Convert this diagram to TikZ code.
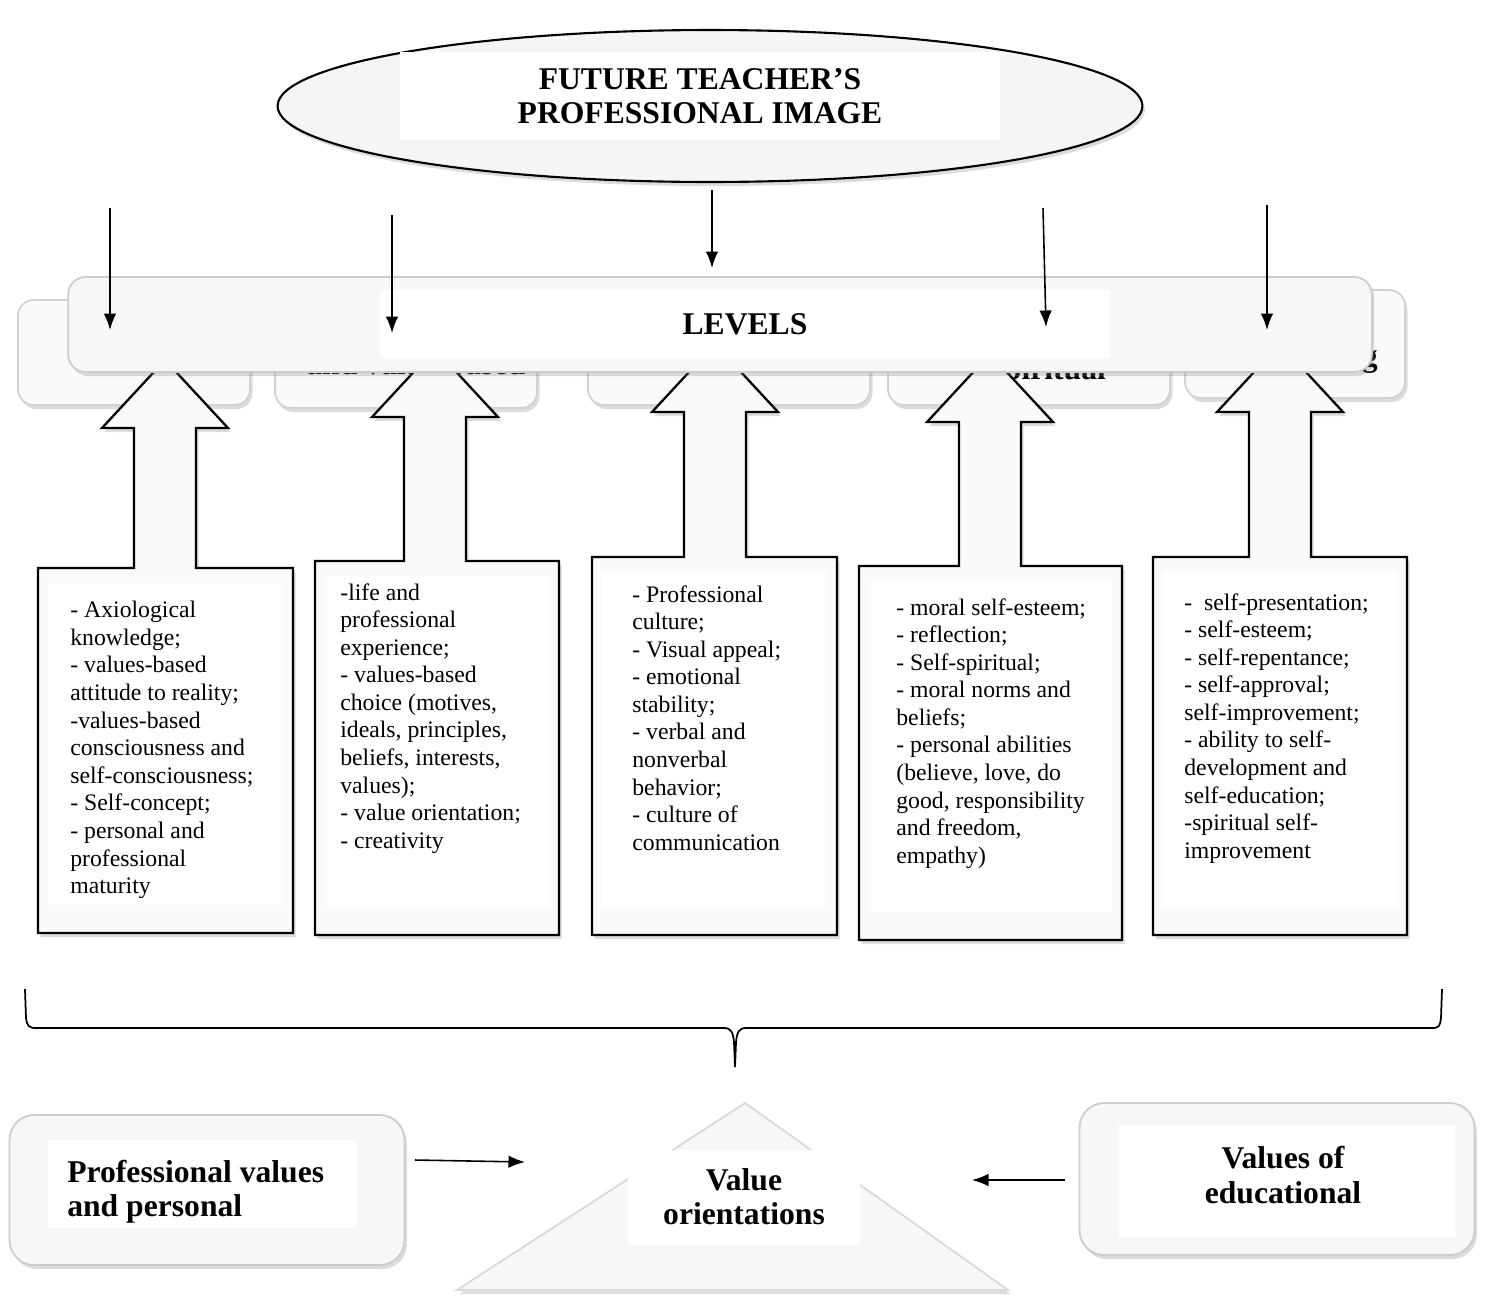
\documentclass[tikz,border=0pt]{standalone}
\usepackage{fontspec}
\setmainfont{Liberation Serif}
\usetikzlibrary{arrows.meta,positioning,shapes.geometric,shadows}

\newcommand{\itemfont}{\fontsize{13.5}{15.7}\selectfont}
\newcommand{\headfont}{\fontsize{18}{19.5}\selectfont\bfseries}

\begin{document}
\begin{tikzpicture}[
  x=0.02cm, y=-0.02cm,
  shade/.style={drop shadow={opacity=0.28, shadow xshift=0.5mm, shadow yshift=-0.8mm}},
  backbox/.style={draw=gray!35, fill=gray!4, line width=1pt, rounded corners=9pt, shade},
  callout/.style={draw=black, line width=1.3pt, fill=gray!4, shade},
  inner/.style={fill=white, draw=none},
  item/.style={anchor=north west, align=left, font=\itemfont, inner sep=0pt},
  head/.style={font=\headfont, align=center, inner sep=0pt},
  panel/.style={draw=gray!40, fill=gray!6, line width=1pt, rounded corners=14pt, shade},
  arr/.style={-{Latex[length=3.3mm, width=2.5mm]}, line width=0.9pt}
]
\useasboundingbox (0,0) rectangle (1486,1299);

% boxes hidden behind the LEVELS bar
\draw[backbox] (18,300) rectangle (250,405);
\draw[backbox] (275,320) rectangle (537,408);
\draw[backbox] (588,330) rectangle (870,405);
\draw[backbox] (888,315) rectangle (1170,405);
\draw[backbox] (1185,290) rectangle (1405,398);
\node[head, anchor=base west] (frag2) at (306,374) {and value-based};
\node[head, anchor=base west] (frag4) at (986,379) {Spiritual};
\node[head, anchor=base east] (frag5) at (1378,366) {g};

% up arrows joined to the boxes
\foreach \l/\r/\t/\b/\c/\w in {38/293/568/933/165/428, 315/559/561/935/435/417,
    592/837/557/935/715/412, 859/1122/566/940/990/422, 1153/1407/557/935/1280/412}{
  \draw[callout] (\l,\b) -- (\l,\t) -- (\c-31,\t) -- (\c-31,\w) -- (\c-63,\w)
    -- (\c,\w-68) -- (\c+63,\w) -- (\c+31,\w) -- (\c+31,\t) -- (\r,\t) -- (\r,\b) -- cycle;
  \fill[inner] (\l+10,\t+15) rectangle (\r-10,\b-28);
}

\node[item] (t1) at (70,601) {- Axiological\\knowledge;\\- values-based\\attitude to reality;\\-values-based\\consciousness and\\self-consciousness;\\- Self-concept;\\- personal and\\professional\\maturity};
\node[item] (t2) at (340,583) {-life and\\professional\\experience;\\- values-based\\choice (motives,\\ideals, principles,\\beliefs, interests,\\values);\\- value orientation;\\- creativity};
\node[item] (t3) at (632,585) {- Professional\\culture;\\- Visual appeal;\\- emotional\\stability;\\- verbal and\\nonverbal\\behavior;\\- culture of\\communication};
\node[item] (t4) at (896,598) {- moral self-esteem;\\- reflection;\\- Self-spiritual;\\- moral norms and\\beliefs;\\- personal abilities\\(believe, love, do\\good, responsibility\\and freedom,\\empathy)};
\node[item] (t5) at (1184,593) {-\ \ self-presentation;\\- self-esteem;\\- self-repentance;\\- self-approval;\\self-improvement;\\- ability to self-\\development and\\self-education;\\-spiritual self-\\improvement};

% levels bar
\node[draw=gray!40, fill=gray!6, line width=1pt, rounded corners=10pt, shade,
  minimum width=26.08cm, minimum height=1.9cm] (levels) at (720,324.5) {};
\fill[inner] (380,290) rectangle (1110,358);
\node[head] (levtxt) at (745,324) {LEVELS};

% image ellipse
\node[ellipse, draw=black, line width=1.2pt, fill=gray!8, shade,
  minimum width=17.3cm, minimum height=3.04cm] (img) at (710,106) {};
\node[head, fill=white, minimum width=12cm, minimum height=1.76cm] (imgtxt) at (700,96)
  {FUTURE TEACHER'S\\PROFESSIONAL IMAGE};

% arrows down to the levels
\coordinate (top1) at (110,208);
\coordinate (top2) at (392,215);
\coordinate (top4) at (1043,208);
\coordinate (top5) at (1267,205);
\coordinate (lev1) at (110,330);
\coordinate (lev2) at (392,333);
\coordinate (lev3) at (712,268);
\coordinate (lev4) at (1046,327);
\coordinate (lev5) at (1267,330);
\draw[arr] (top1) -- (lev1);
\draw[arr] (top2) -- (lev2);
\draw[arr, shorten <=4pt] (img.south -| lev3) -- (lev3);
\draw[arr] (top4) -- (lev4);
\draw[arr] (top5) -- (lev5);

% brace
\draw[line width=1pt] (25,989) -- (26,1018) .. controls (27,1026) and (29,1028) .. (36,1028)
  -- (724,1028) .. controls (731,1028) and (733,1032) .. (734,1042) -- (735,1067)
  -- (736,1042) .. controls (737,1032) and (739,1028) .. (746,1028)
  -- (1432,1028) .. controls (1439,1028) and (1440,1026) .. (1441,1018) -- (1442,989);

% value orientations
\draw[draw=gray!30, fill=gray!6, line width=1pt, shade] (745,1103) -- (1008,1290) -- (457,1290) -- cycle;
\node[head, fill=white, minimum width=4.64cm, minimum height=1.9cm] (vo) at (744,1197)
  {Value\\orientations};

\node[panel, minimum width=7.9cm, minimum height=3cm] (pv) at (207,1190) {};
\fill[inner] (48,1140) rectangle (357,1228);
\node[head, anchor=north west, align=left] (pvtxt) at (67,1160) {Professional values\\and personal};

\node[panel, minimum width=7.9cm, minimum height=3.04cm] (ve) at (1277,1179) {};
\fill[inner] (1118,1125) rectangle (1455,1237);
\node[head] (vetxt) at (1283,1175) {Values of\\educational};

\coordinate (pvout) at (415,1160);
\coordinate (voleft) at (525,1162);
\coordinate (veout) at (1065,1180);
\coordinate (voright) at (972,1180);
\draw[arr] (pvout) -- (voleft);
\draw[arr] (veout) -- (voright);
\end{tikzpicture}
\end{document}
